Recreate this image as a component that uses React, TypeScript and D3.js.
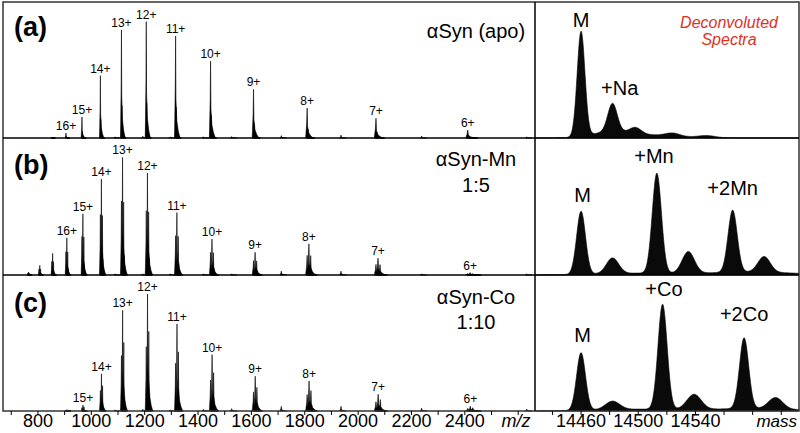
import React from "react";
import * as d3 from "d3";

// ---------- data ----------
const mzTicks = [800, 1000, 1200, 1400, 1600, 1800, 2000, 2200, 2400];
const mzMinorTicks = [700, 900, 1100, 1300, 1500, 1700, 1900, 2100, 2300, 2500, 2600];
const massTicks = [14460, 14500, 14540];
const massMinorTicks = [14440, 14480, 14520, 14560, 14580, 14600];

const panelIds = ["(a)", "(b)", "(c)"];
const panelTitles = [["αSyn (apo)"], ["αSyn-Mn", "1:5"], ["αSyn-Co", "1:10"]];

// charge-state series (m/z of the apo protein)
const chargeZ = [19, 18, 17, 16, 15, 14, 13, 12, 11, 10, 9, 8, 7, 6];
const chargeMz = [762, 804, 852, 905, 965, 1034, 1113, 1206, 1316, 1447, 1608, 1809, 2067, 2411];
const apoHeights = [0, 0, 0.8, 4.2, 17.5, 52, 90, 97, 85, 64, 40.5, 25, 16.5, 6.7];
const mnHeights = [2.5, 8, 18, 31, 51, 80, 98, 85, 52, 30, 19, 26, 14, 2];
const coHeights = [0, 0, 0, 1.2, 5, 31, 84, 97.5, 72.5, 47, 29, 25, 14, 4];
const apoLabelled = [16, 15, 14, 13, 12, 11, 10, 9, 8, 7, 6];
const mnLabelled = [16, 15, 14, 13, 12, 11, 10, 9, 8, 7, 6];
const coLabelled = [15, 14, 13, 12, 11, 10, 9, 8, 7, 6];

// adduct species within each charge-state cluster (Da offset, relative intensity)
const apoOffsets = [0, 22, 38, 60];
const apoRel = [1, 0.3, 0.1, 0.04];
const mnOffsets = [0, 22, 53, 75, 106, 128];
const mnRel = [0.63, 0.17, 1, 0.23, 0.62, 0.17];
const coOffsets = [0, 22, 57, 79, 114, 136];
const coRel = [0.55, 0.09, 1, 0.15, 0.68, 0.11];

// minor (dimer / noise) peaks in m/z spectra
const minorMz = [1089, 1193, 1296, 1420, 1526, 1712, 1936, 2238, 2632];
const apoMinor = [1, 1.5, 1, 1, 1.2, 2, 2.5, 1.7, 1];
const mnMinor = [1, 1, 1, 1, 1, 3.3, 3.3, 1, 1];
const coMinor = [1, 1.5, 1, 1.5, 2, 4, 4, 2.5, 1.7];

// deconvoluted components (mass, height, sigma in Da)
const apoDecMass = [14460, 14482, 14498, 14524, 14548, 14480, 14505];
const apoDecHeight = [87.5, 23.5, 5, 2.5, 1.7, 4, 2.5];
const apoDecSigma = [2.7, 3.3, 4, 5, 6, 13, 22];
const mnDecMass = [14460, 14482, 14513, 14535, 14566, 14588, 14500, 14580];
const mnDecHeight = [52.5, 13, 83.3, 18, 51.7, 13, 1.5, 2.5];
const mnDecSigma = [3.1, 4.3, 3.2, 4.3, 3.2, 4.3, 30, 30];
const coDecMass = [14460, 14482, 14517, 14539, 14574, 14596, 14500, 14580];
const coDecHeight = [48, 7, 87.5, 12.5, 59, 9.5, 1.5, 2];
const coDecSigma = [3.1, 5, 3.2, 5, 3.2, 5, 30, 30];

// adduct labels on deconvoluted spectra
const decLabels = [["M", "+Na"], ["M", "+Mn", "+2Mn"], ["M", "+Co", "+2Co"]];
const decLabelMass = [[14460, 14487], [14461, 14511, 14566], [14461, 14518, 14574]];
const decLabelPeak = [[14460, 14482], [14460, 14513, 14566], [14460, 14517, 14574]];
const decLabelLift = [[4, 8], [9, 10, 15], [11, 8, 17]];

// ---------- layout ----------
const W = 800;
const H = 433;
const fL = 3, fR = 799, fT = 2, fB = 411;
const splitX = 535;
const baselines = [138, 275, 411];
const FONT = "'Liberation Sans', Arial, Helvetica, sans-serif";

const xMz = d3.scaleLinear().domain([669, 2663]).range([fL, splitX]);
const xMass = d3.scaleLinear().domain([14427.8, 14612.4]).range([splitX, fR]);
const yScales = baselines.map((b) => d3.scaleLinear().domain([0, 100]).range([b, b - 120]));

const panels = [
  { heights: apoHeights, labelled: apoLabelled, offsets: apoOffsets, rel: apoRel, minor: apoMinor,
    decMass: apoDecMass, decHeight: apoDecHeight, decSigma: apoDecSigma },
  { heights: mnHeights, labelled: mnLabelled, offsets: mnOffsets, rel: mnRel, minor: mnMinor,
    decMass: mnDecMass, decHeight: mnDecHeight, decSigma: mnDecSigma },
  { heights: coHeights, labelled: coLabelled, offsets: coOffsets, rel: coRel, minor: coMinor,
    decMass: coDecMass, decHeight: coDecHeight, decSigma: coDecSigma },
];

type Pt = [number, number];

function peakShape(c: number, h: number, w: number): Pt[] {
  return [
    [c - w, 0], [c - 0.3 * w, 0.5 * h], [c, h], [c + 0.3 * w, 0.38 * h],
    [c + 1.1 * w, 0.17 * h], [c + 2.4 * w, 0.07 * h], [c + 4 * w, 0],
  ];
}

function profileAt(p: { decMass: number[]; decHeight: number[]; decSigma: number[] }, m: number) {
  let s = 0;
  p.decMass.forEach((c, k) => {
    const d = (m - c) / p.decSigma[k];
    s += p.decHeight[k] * Math.exp(-0.5 * d * d);
  });
  return s;
}

export default function App() {
  const elements: React.ReactNode[] = [];

  panels.forEach((p, pi) => {
    const y = yScales[pi];
    const line = d3.line<Pt>().x((d) => xMz(d[0])).y((d) => y(d[1]));
    const maxRel = d3.max(p.rel) as number;
    const topIdx = p.rel.indexOf(maxRel);

    // minor peaks
    minorMz.forEach((mz, i) => {
      const pts = peakShape(mz, p.minor[i], 5);
      elements.push(<path key={`mn${pi}-${i}`} d={line(pts) + "Z"} fill="#000" stroke="#000" strokeWidth={0.5} />);
    });

    // charge-state clusters
    chargeZ.forEach((z, ci) => {
      const h = p.heights[ci];
      if (h <= 0) return;
      const w = 45 / z;
      p.offsets.forEach((off, si) => {
        const pts = peakShape(chargeMz[ci] + off / z, (h * p.rel[si]) / maxRel, w);
        elements.push(
          <path key={`pk${pi}-${ci}-${si}`} d={line(pts) + "Z"} fill="#000" stroke="#000" strokeWidth={0.6} strokeLinejoin="round" />
        );
      });
      if (p.labelled.includes(z)) {
        const lx = xMz(chargeMz[ci] + p.offsets[topIdx] / z);
        elements.push(
          <text key={`lb${pi}-${ci}`} x={lx} y={y(h) - 3} fontSize={12} textAnchor="middle" fontFamily={FONT} fill="#000">
            {`${z}+`}
          </text>
        );
      }
    });

    // deconvoluted spectrum
    const masses = d3.range(xMass.domain()[0], xMass.domain()[1], 0.25);
    const prof = masses.map((m) => [m, profileAt(p, m)] as Pt);
    const area = d3.area<Pt>().x((d) => xMass(d[0])).y0(y(0)).y1((d) => y(d[1]));
    elements.push(<path key={`dec${pi}`} d={area(prof) as string} fill="#0a0a0a" stroke="#000" strokeWidth={0.6} />);

    // deconvoluted labels
    decLabels[pi].forEach((lab, li) => {
      const s = profileAt(p, decLabelPeak[pi][li]);
      elements.push(
        <text key={`dl${pi}-${li}`} x={xMass(decLabelMass[pi][li])} y={y(s) - decLabelLift[pi][li]} fontSize={20} textAnchor="middle" fontFamily={FONT} fill="#000">
          {lab}
        </text>
      );
    });
  });

  const idY = [36, 174, 312];
  const titleY = [[38], [166, 192], [304, 329]];

  return (
    <svg width={W} height={H} style={{ position: "absolute", left: 0, top: 0, background: "#fff" }} fontFamily={FONT}>
      <rect x={0} y={0} width={W} height={H} fill="#fff" />
      {elements}
      {/* frame & dividers */}
      <rect x={fL} y={fT} width={fR - fL} height={fB - fT} fill="none" stroke="#333" strokeWidth={1.5} />
      {baselines.slice(0, 2).map((b, i) => (
        <line key={`hd${i}`} x1={fL} x2={fR} y1={b} y2={b} stroke="#000" strokeWidth={1.5} />
      ))}
      <line x1={splitX} x2={splitX} y1={fT} y2={fB} stroke="#000" strokeWidth={1.5} />

      {/* panel ids and titles */}
      {panelIds.map((t, i) => (
        <text key={`id${i}`} x={14} y={idY[i]} fontSize={27} fontWeight="bold" fill="#000">{t}</text>
      ))}
      {panelTitles.map((lines, i) =>
        lines.map((t, j) => (
          <text key={`tt${i}-${j}`} x={476} y={titleY[i][j]} fontSize={20} textAnchor="middle" fill="#000">{t}</text>
        ))
      )}
      <text x={729} y={28} fontSize={16} fontStyle="italic" textAnchor="middle" fill="#e0301e">Deconvoluted</text>
      <text x={729} y={45} fontSize={16} fontStyle="italic" textAnchor="middle" fill="#e0301e">Spectra</text>

      {/* m/z axis */}
      {mzTicks.concat(mzMinorTicks).map((t) => (
        <line key={`mt${t}`} x1={xMz(t)} x2={xMz(t)} y1={fB} y2={fB + 4} stroke="#000" strokeWidth={1} />
      ))}
      {mzTicks.map((t) => (
        <text key={`ml${t}`} x={xMz(t)} y={427} fontSize={18} textAnchor="middle" fill="#000">{t}</text>
      ))}
      <text x={516} y={427} fontSize={18} fontStyle="italic" textAnchor="middle" fill="#000">m/z</text>

      {/* mass axis */}
      {massTicks.concat(massMinorTicks).map((t) => (
        <line key={`at${t}`} x1={xMass(t)} x2={xMass(t)} y1={fB} y2={fB + 4} stroke="#000" strokeWidth={1} />
      ))}
      {massTicks.map((t) => (
        <text key={`al${t}`} x={xMass(t)} y={427} fontSize={18} textAnchor="middle" fill="#000">{t}</text>
      ))}
      <text x={797} y={427} fontSize={17} fontStyle="italic" textAnchor="end" fill="#000">mass</text>
    </svg>
  );
}
